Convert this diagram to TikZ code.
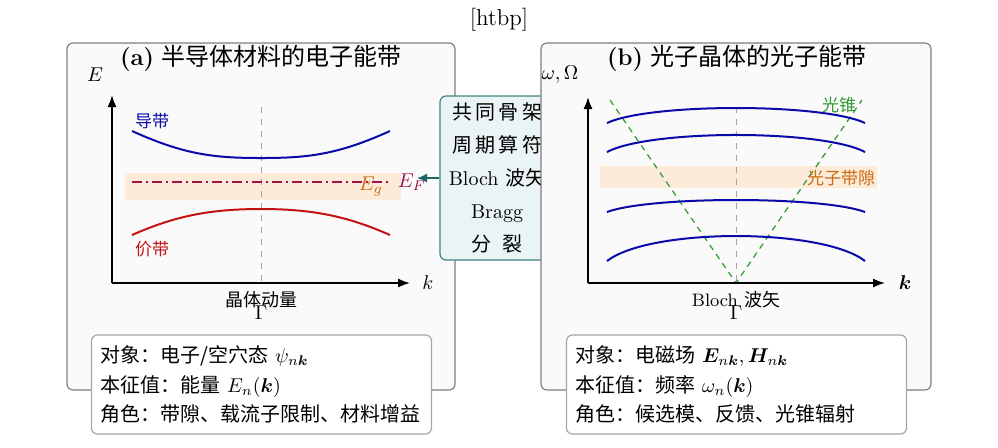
\documentclass[tikz,border=0pt]{standalone}
\usepackage{amsmath,bm}
\usepackage{fontspec}
\newfontfamily\cjk{Noto Sans CJK SC}
\newcommand{\zhtext}[1]{{\cjk #1}}
\usetikzlibrary{arrows.meta,calc}
\definecolor{panelfill}{HTML}{FAFAFA}
\definecolor{panelline}{HTML}{7F7F7F}
\definecolor{infoline}{HTML}{A6A6A6}
\definecolor{midfill}{HTML}{EAF4F5}
\definecolor{midline}{HTML}{3F8584}
\definecolor{arrteal}{HTML}{1C6565}
\definecolor{bandblue}{HTML}{0A0AAA}
\definecolor{bandred}{HTML}{C41212}
\definecolor{gapfill}{HTML}{FDEBDA}
\definecolor{gaptext}{HTML}{CC6A10}
\definecolor{fermi}{HTML}{A0104A}
\definecolor{cone}{HTML}{2E9A2E}
\tikzset{
  panel/.style={draw=panelline, fill=panelfill, line width=0.6pt, rounded corners=3pt},
  infobox/.style={draw=infoline, fill=white, line width=0.6pt, rounded corners=3pt,
    align=left, text width=161pt, minimum height=49.5pt, inner xsep=4.5pt,
    font=\fontsize{10pt}{14.75pt}\selectfont},
  midbox/.style={draw=midline, fill=midfill, line width=0.6pt, rounded corners=3pt,
    align=center, minimum width=57pt, minimum height=82pt, inner sep=0pt,
    font=\fontsize{10pt}{16.5pt}\selectfont},
  axis/.style={line width=0.8pt, -{Latex[length=6pt,width=4.5pt]}},
  band/.style={line width=1pt},
  sym/.style={draw=gray!70, dashed, line width=0.5pt},
  titletext/.style={font=\large},
  gap/.style={fill=gapfill, draw=none},
  lbl/.style={font=\fontsize{8.5pt}{10pt}\selectfont},
  axcap/.style={font=\fontsize{9pt}{11pt}\selectfont},
}
\begin{document}
\begin{tikzpicture}[x=0.5pt,y=-0.5pt]
\useasboundingbox (0,0) rectangle (998,447);
\node[font=\fontsize{11.5pt}{14pt}\selectfont] (htbp) at (499,20) {[htbp]};

% ---------- panel (a)
\draw[panel] (67,43) rectangle (455,390);
\node[titletext] (ta) at (261,58) {\textbf{(a)} \zhtext{半导体材料的电子能带}};
\node (Ea) at (95,75) {$E$};
\fill[gap] (125,173) rectangle (401,200);
\coordinate (oa) at (112,283);
\coordinate (ya) at (112,95);
\coordinate (xa) at (410,283);
\draw[sym] (261,107) -- (261,283);
\draw[fermi, line width=0.8pt, dash pattern=on 5pt off 2pt on 1pt off 2pt] (132,182) -- (388,182);
\draw[axis] (oa) -- (ya);
\draw[axis] (oa) -- (xa);
\node (ka) at (428,283) {$k$};
\draw[band, bandblue] (132,131) .. controls (185,155) and (215,158) .. (261,158)
  .. controls (307,158) and (337,155) .. (390,131);
\draw[band, bandred] (132,235) .. controls (175,216) and (210,209) .. (261,209)
  .. controls (312,209) and (347,216) .. (390,235);
\node[lbl, text=bandblue] (cb) at (152,121) {\zhtext{导带}};
\node[lbl, text=bandred] (vb) at (152,249) {\zhtext{价带}};
\node[text=gaptext] (Eg) at (371,187) {$E_g$};
\node[text=fermi] (EF) at (412,182) {$E_F$};
\node[axcap] (cm) at (261,300) {\zhtext{晶体动量}};
\node (Ga) at (261,313) {$\Gamma$};
\node[infobox] (ia) at (261.5,384.5) {\zhtext{对象：电子/空穴态} $\psi_{n\bm{k}}$\\
\zhtext{本征值：能量} $E_n(\bm{k})$\\
\zhtext{角色：带隙、载流子限制、材料增益}};

% ---------- middle box
\node[midbox] (mid) at (497,178) {\zhtext{共\,同\,骨\,架}\\\zhtext{周\,期\,算\,符}\\Bloch \zhtext{波矢}\\Bragg\\\zhtext{分\hspace{0.55em}裂}};
\draw[arrteal, line width=0.8pt, -{Latex[length=5pt,width=4.5pt]}] (mid.west) -- ([xshift=2.5pt]EF.center |- mid.west);

% ---------- panel (b)
\draw[panel] (541,43) rectangle (931,390);
\node[titletext] (tb) at (737,58) {\textbf{(b)} \zhtext{光子晶体的光子能带}};
\node (Wb) at (560,75) {$\omega,\Omega$};
\fill[gap] (600,166) rectangle (877,188);
\coordinate (ob) at (588,283);
\coordinate (yb) at (588,97);
\coordinate (xb) at (885,283);
\coordinate (gb) at (736,283);
\coordinate (cl) at (610,100);
\coordinate (cr) at (862,100);
\draw[sym] (736,107) -- (gb);
\draw[cone, dash pattern=on 3pt off 2.5pt, line width=0.6pt] (cl) -- (gb) -- (cr);
\draw[axis] (ob) -- (yb);
\draw[axis] (ob) -- (xb);
\node (kb) at (905,283) {$\bm{k}$};
\draw[band, bandblue] (607,123) .. controls (650,103) and (822,103) .. (865,123);
\draw[band, bandblue] (607,152) .. controls (650,129.3) and (822,129.3) .. (865,152);
\draw[band, bandblue] (607,212) .. controls (650,196) and (822,196) .. (865,212);
\draw[band, bandblue] (607,261) .. controls (650,227.7) and (822,227.7) .. (865,261);
\node[lbl, text=cone] (lc) at (839,105) {\zhtext{光锥}};
\node[lbl, text=gaptext] (pg) at (841,178) {\zhtext{光子带隙}};
\node[axcap] (bw) at (736,300) {Bloch \zhtext{波矢}};
\node (Gb) at (736,313) {$\Gamma$};
\node[infobox] (ib) at (736.5,384.5) {\zhtext{对象：电磁场} $\bm{E}_{n\bm{k}},\bm{H}_{n\bm{k}}$\\
\zhtext{本征值：频率} $\omega_n(\bm{k})$\\
\zhtext{角色：候选模、反馈、光锥辐射}};
\end{tikzpicture}
\end{document}
